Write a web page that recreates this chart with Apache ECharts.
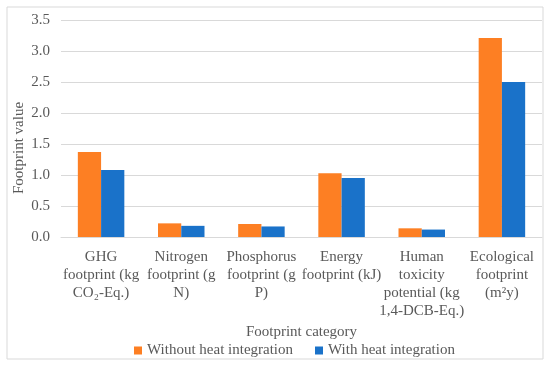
<!DOCTYPE html>
<html><head><meta charset="utf-8">
<script src="https://cdn.jsdelivr.net/npm/echarts@6/dist/echarts.min.js"></script>
<style>html,body{margin:0;padding:0;background:#fff}#c{width:550px;height:368px}</style>
</head><body><div id="c"></div>
<script>
const categories = [
  "GHG\nfootprint (kg\nCO₂-Eq.)",
  "Nitrogen\nfootprint (g\nN)",
  "Phosphorus\nfootprint (g\nP)",
  "Energy\nfootprint (kJ)",
  "Human\ntoxicity\npotential (kg\n1,4-DCB-Eq.)",
  "Ecological\nfootprint\n(m²y)"
];
const withoutHeat = [1.37, 0.22, 0.21, 1.03, 0.14, 3.21];
const withHeat = [1.08, 0.18, 0.17, 0.95, 0.12, 2.50];
const seriesNames = ["Without heat integration", "With heat integration"];
const yTicks = { min: 0, max: 3.5, interval: 0.5 };

const font = "'Liberation Serif', 'DejaVu Serif', serif";
const txt = "#595959";
const fs = 15;
const chart = echarts.init(document.getElementById('c'), null, {renderer: 'canvas'});
chart.setOption({
  animation: false,
  textStyle: { fontFamily: font },
  grid: { left: 61, right: 8, top: 20, bottom: 131 },
  graphic: [{
    type: 'rect', shape: { x: 7, y: 7, width: 536, height: 352 },
    style: { fill: 'none', stroke: '#d9d9d9', lineWidth: 1 }, z: -1
  }, {
    type: 'text', x: 19, y: 148, rotation: Math.PI / 2,
    style: { text: 'Footprint value', font: fs + "px " + font, fill: txt, align: 'center', verticalAlign: 'middle' }
  }],
  legend: {
    top: 338, left: 129, itemWidth: 8, itemHeight: 8, itemGap: 22, icon: 'rect',
    textStyle: { fontFamily: font, fontSize: fs, color: txt },
    data: seriesNames
  },
  xAxis: {
    type: 'category', data: categories,
    name: 'Footprint category', nameLocation: 'middle', nameGap: 82,
    nameTextStyle: { fontFamily: font, fontSize: fs, color: txt },
    axisLine: { lineStyle: { color: '#d9d9d9' } },
    axisTick: { show: false },
    axisLabel: { interval: 0, fontFamily: font, fontSize: fs, color: txt, lineHeight: 18, margin: 11, verticalAlign: 'top' }
  },
  yAxis: {
    type: 'value', min: yTicks.min, max: yTicks.max, interval: yTicks.interval,
    axisLine: { show: false }, axisTick: { show: false },
    splitLine: { lineStyle: { color: '#d9d9d9' } },
    axisLabel: { fontFamily: font, fontSize: fs, color: txt, margin: 11, formatter: v => v.toFixed(1) }
  },
  series: [
    { name: seriesNames[0], type: 'bar', data: withoutHeat, barGap: '0%', barCategoryGap: '42%', itemStyle: { color: '#fd7f23' } },
    { name: seriesNames[1], type: 'bar', data: withHeat, itemStyle: { color: '#1a72c9' } }
  ]
});
</script></body></html>
